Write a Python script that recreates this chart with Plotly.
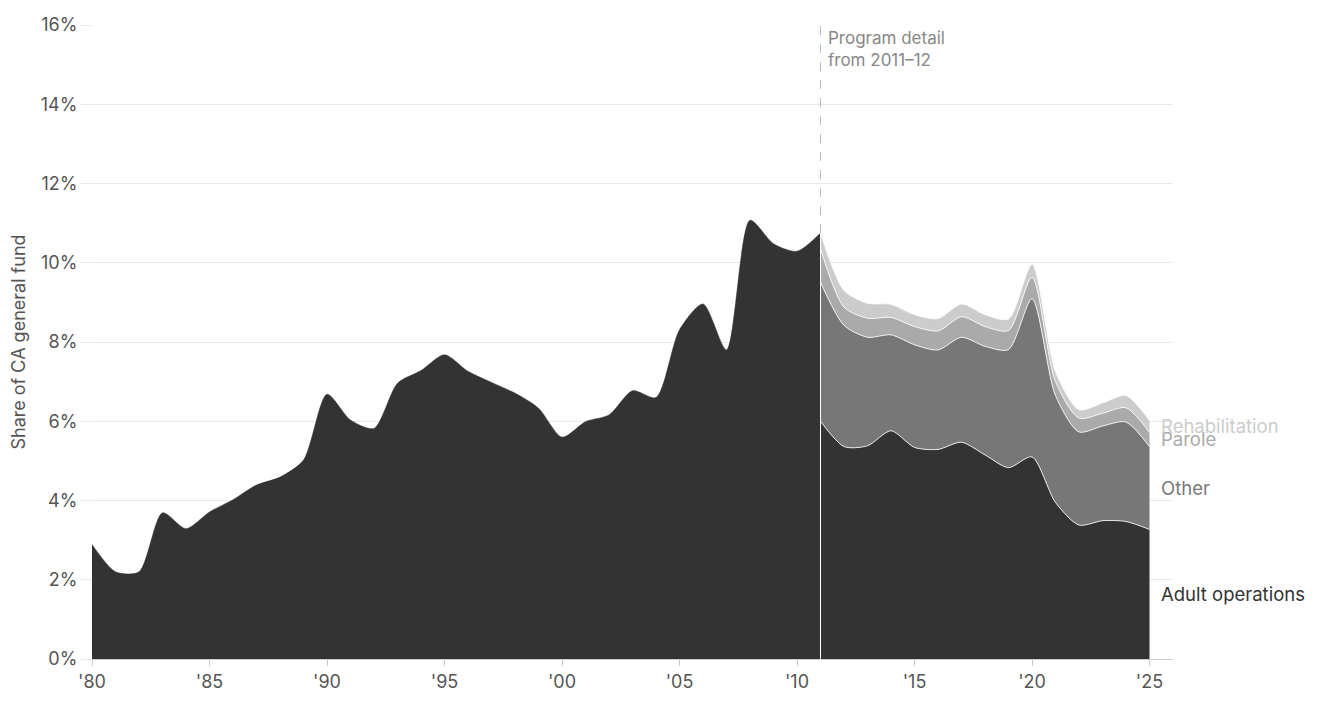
import plotly.graph_objects as go

# total corrections spending as share of general fund, before program detail
hist_years = list(range(1980, 2012))
hist_total = [2.89, 2.20, 2.20, 3.69, 3.29, 3.71, 4.02, 4.39, 4.59, 5.02,
              6.68, 6.03, 5.82, 6.96, 7.28, 7.68, 7.26, 6.98, 6.71, 6.33,
              5.60, 5.99, 6.16, 6.77, 6.60, 8.31, 8.96, 7.80, 11.07, 10.48,
              10.29, 10.75]

# program detail from 2011-12
prog_years = list(range(2011, 2026))
adult_ops = [6.00, 5.36, 5.38, 5.76, 5.34, 5.29, 5.47, 5.15, 4.83, 5.10, 3.95, 3.38, 3.49, 3.47, 3.27]
other = [3.51, 3.06, 2.74, 2.42, 2.59, 2.51, 2.65, 2.74, 2.98, 3.99, 2.70, 2.35, 2.39, 2.51, 2.09]
parole = [0.84, 0.46, 0.48, 0.44, 0.46, 0.48, 0.52, 0.50, 0.48, 0.54, 0.35, 0.35, 0.32, 0.36, 0.36]
rehab = [0.40, 0.42, 0.38, 0.33, 0.30, 0.31, 0.32, 0.30, 0.29, 0.33, 0.25, 0.21, 0.26, 0.31, 0.30]

series_names = ["Adult operations", "Other", "Parole", "Rehabilitation"]
series_colors = ["#333333", "#777777", "#aaaaaa", "#cccccc"]

tick_years = list(range(1980, 2026, 5))
tick_labels = ["'80", "'85", "'90", "'95", "'00", "'05", "'10", "'15", "'20", "'25"]
y_ticks = list(range(0, 17, 2))
y_labels = [str(v) + "%" for v in y_ticks]

FONT = "Inter, Helvetica Neue, Arial, sans-serif"
SMOOTH = 0.75

fig = go.Figure()

fig.add_trace(go.Scatter(x=hist_years, y=hist_total, mode="lines",
                         fill="tozeroy", fillcolor="#333333",
                         line=dict(color="#333333", width=0.5, shape="spline", smoothing=SMOOTH),
                         hoverinfo="skip", showlegend=False))

for name, vals, col in zip(series_names, [adult_ops, other, parole, rehab], series_colors):
    fig.add_trace(go.Scatter(x=prog_years, y=vals, name=name, mode="lines",
                             stackgroup="prog", fillcolor=col,
                             line=dict(color="white", width=0.8, shape="spline", smoothing=SMOOTH),
                             showlegend=False))

# split marker at 2011
split_year = prog_years[0]
split_top = hist_total[-1]
fig.add_shape(type="line", x0=split_year, x1=split_year, y0=0, y1=split_top,
              xref="x", yref="y", line=dict(color="white", width=1))
fig.add_shape(type="line", x0=split_year, x1=split_year, y0=split_top, y1=16,
              xref="x", yref="y", line=dict(color="#bbbbbb", width=1, dash="dash"))
fig.add_annotation(x=split_year, y=16, xref="x", yref="y", xanchor="left", yanchor="top",
                   xshift=5, yshift=-1, align="left", showarrow=False,
                   text="Program detail<br>from 2011–12",
                   font=dict(family=FONT, size=17, color="#888888"))

# end labels at middle of each band
base = 0
for name, vals, col in zip(series_names, [adult_ops, other, parole, rehab], series_colors):
    mid = base + vals[-1] / 2
    base += vals[-1]
    fig.add_annotation(x=prog_years[-1], y=mid, xref="x", yref="y", xanchor="left",
                       xshift=9, showarrow=False, text=name,
                       font=dict(family=FONT, size=18.5, color=col))

# page has an 8px body margin, so the figure is sized to fit inside it
fig.update_layout(
    width=1302, height=692,
    margin=dict(l=84, r=137, t=17, b=41),
    plot_bgcolor="white", paper_bgcolor="white",
    font=dict(family=FONT, size=18, color="#555555"),
    hovermode=False,
)
fig.update_xaxes(range=[1980, 2026], tickvals=tick_years, ticktext=tick_labels,
                 showgrid=False, zeroline=False, showline=True, linecolor="#cccccc",
                 ticks="outside", ticklen=6, tickcolor="#cccccc", automargin=False,
                 tickfont=dict(size=18, color="#555555"))
fig.update_yaxes(range=[0, 16], tickvals=y_ticks, ticktext=y_labels,
                 showgrid=True, gridcolor="#e8e8e8", zeroline=False,
                 ticks="outside", ticklen=10, tickcolor="#e8e8e8", automargin=False,
                 tickfont=dict(size=18, color="#555555"),
                 title=dict(text="Share of CA general fund", standoff=14,
                            font=dict(size=18, color="#555555")))

fig.write_html("out.html")
